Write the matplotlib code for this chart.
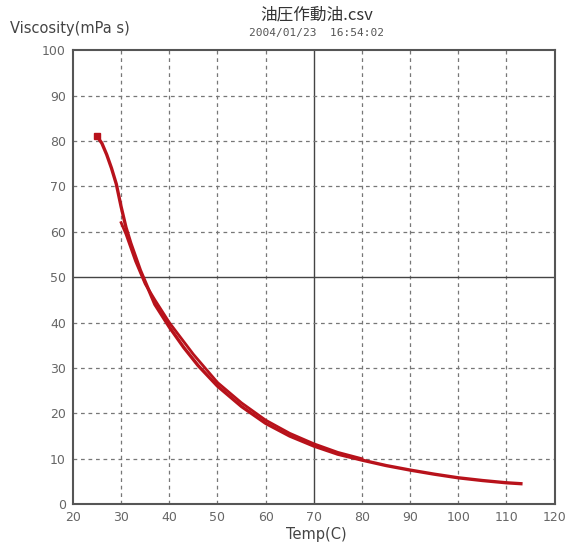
'''Viscosity vs temperature curve for a hydraulic oil sample'''

import numpy as np
import matplotlib
matplotlib.use('Agg')
import matplotlib.pyplot as plt

# first pass (whole range)
temp_a = [25, 26, 27, 28, 29, 30, 31, 32, 33, 34, 35, 37, 40, 43, 46, 50,
          55, 60, 65, 70, 75, 80, 85, 90, 95, 100, 105, 110, 113]
visc_a = [81, 79.5, 77, 74, 70.5, 65.5, 61, 57.5, 54.5, 51.5, 49, 44, 39,
          34.5, 30.5, 26, 21.5, 17.8, 15, 12.8, 11, 9.7, 8.5, 7.5, 6.6,
          5.8, 5.2, 4.7, 4.5]

# second pass (slightly higher between 30 and 80 C)
temp_b = [30, 31, 32, 33, 34, 35, 37, 40, 45, 50, 55, 60, 65, 70, 75, 80]
visc_b = [62, 59.5, 56.5, 53.5, 51, 48.5, 45, 40, 33, 26.8, 22.3, 18.5,
          15.6, 13.3, 11.4, 10]

x_ticks = np.arange(20, 121, 10)
y_ticks = np.arange(0, 101, 10)

title = '油圧作動油.csv'
timestamp = '2004/01/23  16:54:02'
line_color = '#b8121b'


def make_plot():
    fig = plt.figure(figsize=(5.7, 5.45), dpi=100)
    ax = fig.add_axes([0.128, 0.075, 0.845, 0.833])

    ax.set_xlim(20, 120)
    ax.set_ylim(0, 100)
    ax.set_xticks(x_ticks)
    ax.set_yticks(y_ticks)

    for x in x_ticks[1:-1]:
        if x == 70:
            ax.axvline(x, color='#444444', lw=1.0, zorder=1)
        else:
            ax.axvline(x, color='#777777', lw=0.9, ls=(0, (3, 3)), zorder=1)
    for y in y_ticks[1:-1]:
        if y == 50:
            ax.axhline(y, color='#444444', lw=1.0, zorder=1)
        else:
            ax.axhline(y, color='#777777', lw=0.9, ls=(0, (3, 3)), zorder=1)

    ax.plot(temp_b, visc_b, color=line_color, lw=2.0, zorder=3)
    ax.plot(temp_a, visc_a, color=line_color, lw=2.4, zorder=3)
    ax.plot(temp_a[:1], visc_a[:1], 's', color=line_color, ms=5, zorder=4)

    for sp in ax.spines.values():
        sp.set_color('#555555')
        sp.set_linewidth(1.5)
    ax.tick_params(length=0, pad=5, labelsize=9, labelcolor='#666666')

    fig.text(0.555, 0.972, title, ha='center', va='center', fontsize=12,
             color='#333333', family=['Noto Sans CJK JP', 'DejaVu Sans'])
    fig.text(0.555, 0.939, timestamp, ha='center', va='center', fontsize=8,
             color='#555555', family='DejaVu Sans Mono')
    fig.text(0.018, 0.948, 'Viscosity(mPa s)', ha='left', va='center',
             fontsize=10.5, color='#444444')
    fig.text(0.555, 0.020, 'Temp(C)', ha='center', va='center',
             fontsize=10.5, color='#444444')

    fig.savefig('out.png', dpi=100)


if __name__ == "__main__":
    make_plot()
